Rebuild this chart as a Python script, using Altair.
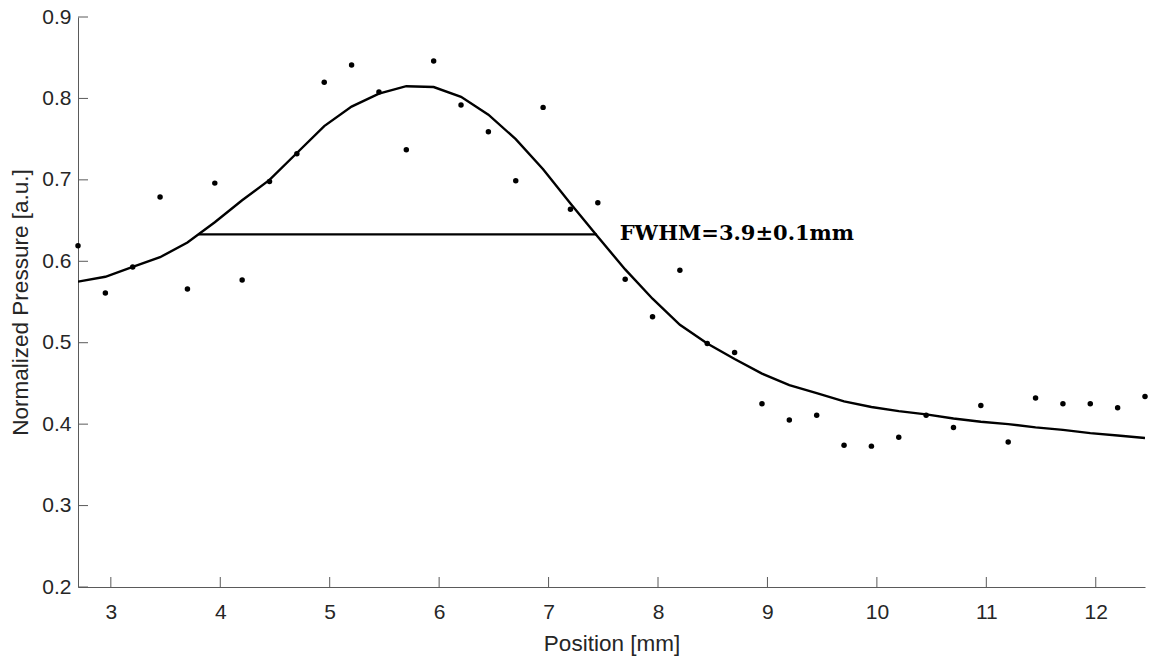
import altair as alt
import pandas as pd

# positions of the measurements [mm]
x_pos = [2.70, 2.95, 3.20, 3.45, 3.70, 3.95, 4.20, 4.45, 4.70, 4.95,
         5.20, 5.45, 5.70, 5.95, 6.20, 6.45, 6.70, 6.95, 7.20, 7.45,
         7.70, 7.95, 8.20, 8.45, 8.70, 8.95, 9.20, 9.45, 9.70, 9.95,
         10.20, 10.45, 10.70, 10.95, 11.20, 11.45, 11.70, 11.95, 12.20, 12.45]
# measured normalized pressure
measured = [0.619, 0.561, 0.593, 0.679, 0.566, 0.696, 0.577, 0.698, 0.732, 0.820,
            0.841, 0.808, 0.737, 0.846, 0.792, 0.759, 0.699, 0.789, 0.664, 0.672,
            0.578, 0.532, 0.589, 0.499, 0.488, 0.425, 0.405, 0.411, 0.374, 0.373,
            0.384, 0.411, 0.396, 0.423, 0.378, 0.432, 0.425, 0.425, 0.420, 0.434]
# fitted curve
fitted = [0.575, 0.581, 0.593, 0.605, 0.623, 0.648, 0.675, 0.700, 0.733, 0.766,
          0.790, 0.806, 0.815, 0.814, 0.802, 0.780, 0.750, 0.713, 0.671, 0.630,
          0.590, 0.554, 0.522, 0.499, 0.480, 0.462, 0.448, 0.438, 0.428, 0.421,
          0.416, 0.412, 0.407, 0.403, 0.400, 0.396, 0.393, 0.389, 0.386, 0.383]
# FWHM segment
fwhm_x = [3.80, 7.44]
fwhm_y = [0.633, 0.633]
fwhm_label = "FWHM=3.9\u00b10.1mm"
label_x = [7.65]
label_y = [0.633]

x_ticks = [3, 4, 5, 6, 7, 8, 9, 10, 11, 12]
y_ticks = [0.2, 0.3, 0.4, 0.5, 0.6, 0.7, 0.8, 0.9]

X_DOMAIN = [2.7, 12.45]
Y_DOMAIN = [0.2, 0.9]
W, H = 1067, 570
TXT = "#262626"
LINE = "#5a5a5a"
FONT = "Liberation Sans"
LAB_FS = 21
TIT_FS = 22.5

df = pd.DataFrame({"x": x_pos, "meas": measured, "fit": fitted})
df_fwhm = pd.DataFrame({"x": fwhm_x, "y": fwhm_y})
df_lab = pd.DataFrame({"x": label_x, "y": label_y, "t": [fwhm_label]})
df_xt = pd.DataFrame({"x": x_ticks})
df_yt = pd.DataFrame({"y": y_ticks})

xs = alt.Scale(domain=X_DOMAIN, nice=False, zero=False)
ys = alt.Scale(domain=Y_DOMAIN, nice=False, zero=False)

x_axis = alt.Axis(values=x_ticks, title="Position [mm]", grid=False, ticks=False,
                  labelPadding=14, titlePadding=10, labelFontSize=LAB_FS, titleFontSize=TIT_FS,
                  labelFont=FONT, titleFont=FONT, labelColor=TXT, titleColor=TXT,
                  titleFontWeight="normal", domainColor=LINE, domainWidth=1,
                  labelFlush=False, format="d")
y_axis = alt.Axis(values=y_ticks, title="Normalized Pressure [a.u.]", grid=False, ticks=False,
                  labelPadding=7, titlePadding=9, labelFontSize=LAB_FS, titleFontSize=TIT_FS,
                  labelFont=FONT, titleFont=FONT, labelColor=TXT, titleColor=TXT,
                  titleFontWeight="normal", domainColor=LINE, domainWidth=1,
                  labelFlush=False, format=".1f")

base = alt.Chart(df)

points = base.mark_circle(size=30, color="black", opacity=1).encode(
    x=alt.X("x:Q", scale=xs, axis=x_axis),
    y=alt.Y("meas:Q", scale=ys, axis=y_axis),
)

curve = base.mark_line(color="black", strokeWidth=2.4, clip=True).encode(
    x=alt.X("x:Q", scale=xs),
    y=alt.Y("fit:Q", scale=ys),
)

fwhm = alt.Chart(df_fwhm).mark_line(color="black", strokeWidth=2.4).encode(
    x=alt.X("x:Q", scale=xs),
    y=alt.Y("y:Q", scale=ys),
)

label = alt.Chart(df_lab).mark_text(
    align="left", baseline="middle", font="DejaVu Serif", fontWeight="bold",
    fontSize=21, color="black", dy=0
).encode(
    x=alt.X("x:Q", scale=xs),
    y=alt.Y("y:Q", scale=ys),
    text="t:N",
)

xticks = alt.Chart(df_xt).mark_rule(color=LINE, strokeWidth=1).encode(
    x=alt.X("x:Q", scale=xs),
    y=alt.value(H),
    y2=alt.value(H - 10),
)
yticks = alt.Chart(df_yt).mark_rule(color=LINE, strokeWidth=1).encode(
    y=alt.Y("y:Q", scale=ys),
    x=alt.value(0),
    x2=alt.value(10),
)

chart = alt.layer(xticks, yticks, curve, fwhm, points, label).properties(
    width=W, height=H,
    autosize=alt.AutoSizeParams(type="none"),
    padding={"left": 78, "top": 17, "right": 7, "bottom": 71},
    background="white",
).configure_view(stroke=None)

chart.save("out.html", embed_options={"renderer": "svg", "actions": False})
